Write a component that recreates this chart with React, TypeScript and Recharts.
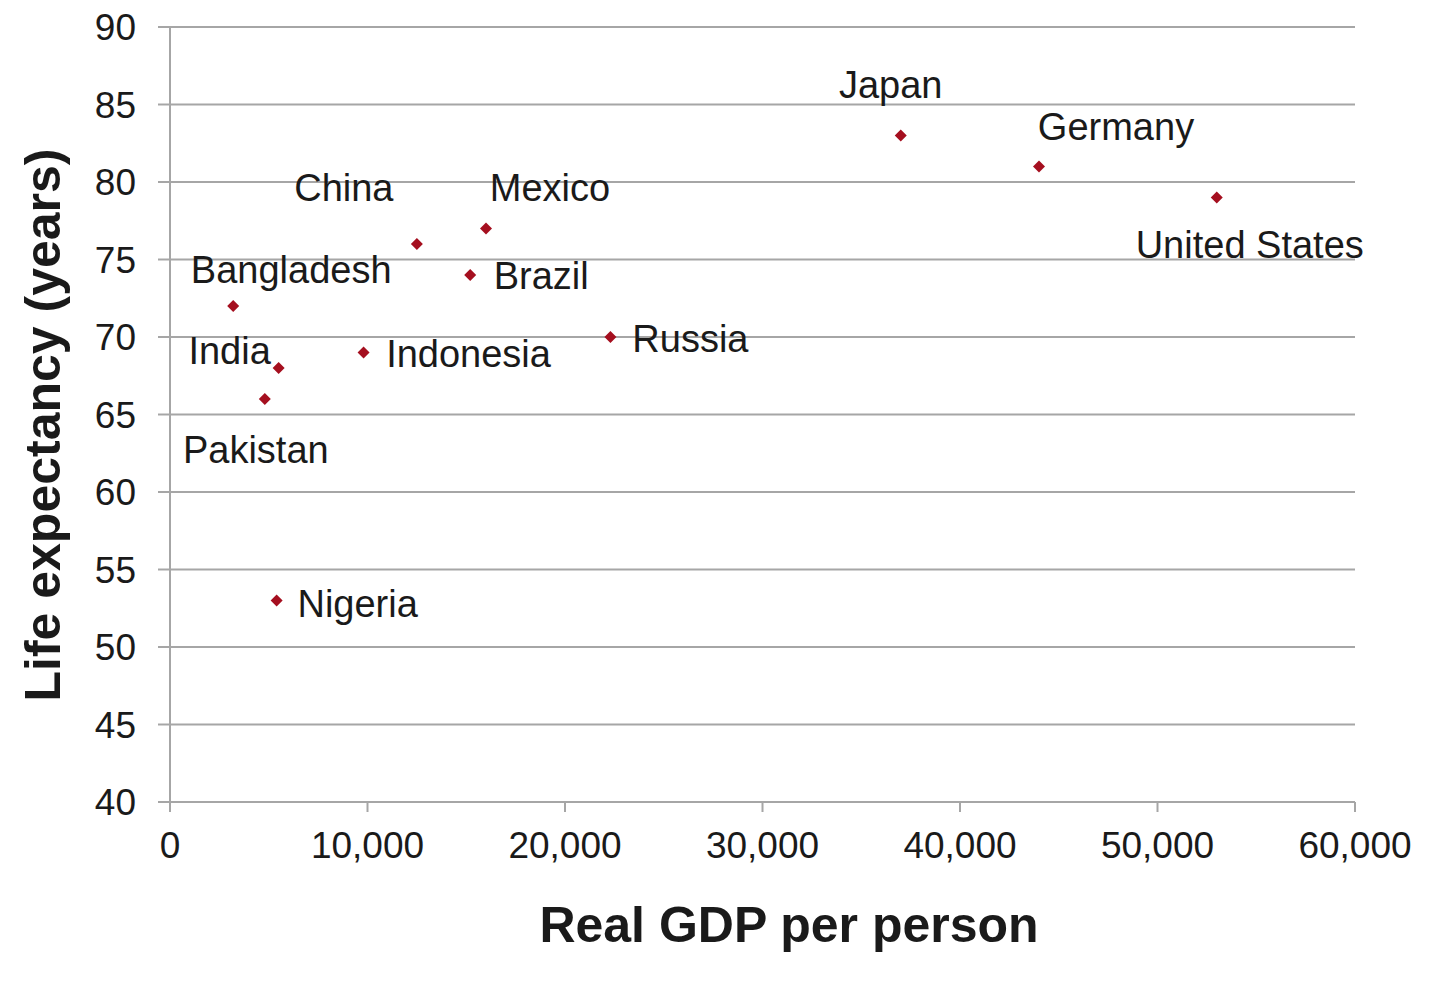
import React from 'react';
import {
  ScatterChart,
  Scatter,
  XAxis,
  YAxis,
  CartesianGrid,
  LabelList
} from 'recharts';

// countries, GDP per person (USD) and life expectancy (years)
const countries = [
  'Japan', 'Germany', 'United States', 'Mexico', 'China', 'Brazil',
  'Bangladesh', 'Russia', 'Indonesia', 'India', 'Pakistan', 'Nigeria'
];
const gdpPerPerson = [37000, 44000, 53000, 16000, 12500, 15200, 3200, 22300, 9800, 5500, 4800, 5400];
const lifeExpectancy = [83, 81, 79, 77, 76, 74, 72, 70, 69, 68, 66, 53];

const xTicks = [0, 10000, 20000, 30000, 40000, 50000, 60000];
const yTicks = [40, 45, 50, 55, 60, 65, 70, 75, 80, 85, 90];

// label placement relative to each marker
const labelOffsets: Record<string, [number, number]> = {
  Japan: [-10, -51],
  Germany: [77, -40],
  'United States': [33, 47],
  Mexico: [64, -41],
  China: [-73, -56],
  Brazil: [71, 1],
  Bangladesh: [58, -36],
  Russia: [80, 2],
  Indonesia: [105, 1],
  India: [-49, -17],
  Pakistan: [-9, 51],
  Nigeria: [81, 3]
};

const data = countries.map((name, i) => ({
  name,
  gdp: gdpPerPerson[i],
  life: lifeExpectancy[i]
}));

const FONT = '"Liberation Sans", Arial, sans-serif';
const GRID = '#a6a6a6';
const INK = '#1a1a1a';

const Diamond = (props: any) => {
  const { cx, cy } = props;
  const r = 6;
  return (
    <polygon
      points={`${cx},${cy - r} ${cx + r},${cy} ${cx},${cy + r} ${cx - r},${cy}`}
      fill="#a50f1f"
    />
  );
};

const CountryLabel = (props: any) => {
  const { x, y, width, height, value } = props;
  const [dx, dy] = labelOffsets[value] || [0, 0];
  const cx = x + (width || 0) / 2;
  const cy = y + (height || 0) / 2;
  return (
    <text
      x={cx + dx}
      y={cy + dy}
      textAnchor="middle"
      dominantBaseline="central"
      fontSize={38}
      fontFamily={FONT}
      fill={INK}
    >
      {value}
    </text>
  );
};

const YTitle = () => (
  <text
    x={43}
    y={425}
    transform="rotate(-90, 43, 425)"
    textAnchor="middle"
    dominantBaseline="central"
    fontSize={50}
    fontWeight="bold"
    fontFamily={FONT}
    fill={INK}
  >
    Life expectancy (years)
  </text>
);

const XTitle = () => (
  <text
    x={789}
    y={925}
    textAnchor="middle"
    dominantBaseline="central"
    fontSize={50}
    fontWeight="bold"
    fontFamily={FONT}
    fill={INK}
  >
    Real GDP per person
  </text>
);

export default function App() {
  return (
    <div style={{ position: 'absolute', top: 0, left: 0, width: 1440, height: 982, background: '#fff' }}>
      <ScatterChart width={1440} height={982} margin={{ top: 27, right: 85, left: 0, bottom: 0 }}>
        <CartesianGrid horizontal vertical={false} stroke={GRID} strokeWidth={2} />
        <XAxis
          type="number"
          dataKey="gdp"
          domain={[0, 60000]}
          ticks={xTicks}
          height={180}
          tickSize={10}
          tickMargin={20}
          stroke={GRID}
          strokeWidth={2}
          tick={{ fill: INK, fontSize: 37, fontFamily: FONT }}
          tickFormatter={(v) => v.toLocaleString('en-US')}
          label={<XTitle />}
        />
        <YAxis
          type="number"
          dataKey="life"
          domain={[40, 90]}
          ticks={yTicks}
          width={170}
          tickSize={12}
          tickMargin={22}
          stroke={GRID}
          strokeWidth={2}
          tick={{ fill: INK, fontSize: 37, fontFamily: FONT }}
          label={<YTitle />}
        />
        <Scatter data={data} shape={<Diamond />} isAnimationActive={false}>
          <LabelList dataKey="name" content={<CountryLabel />} />
        </Scatter>
      </ScatterChart>
    </div>
  );
}
